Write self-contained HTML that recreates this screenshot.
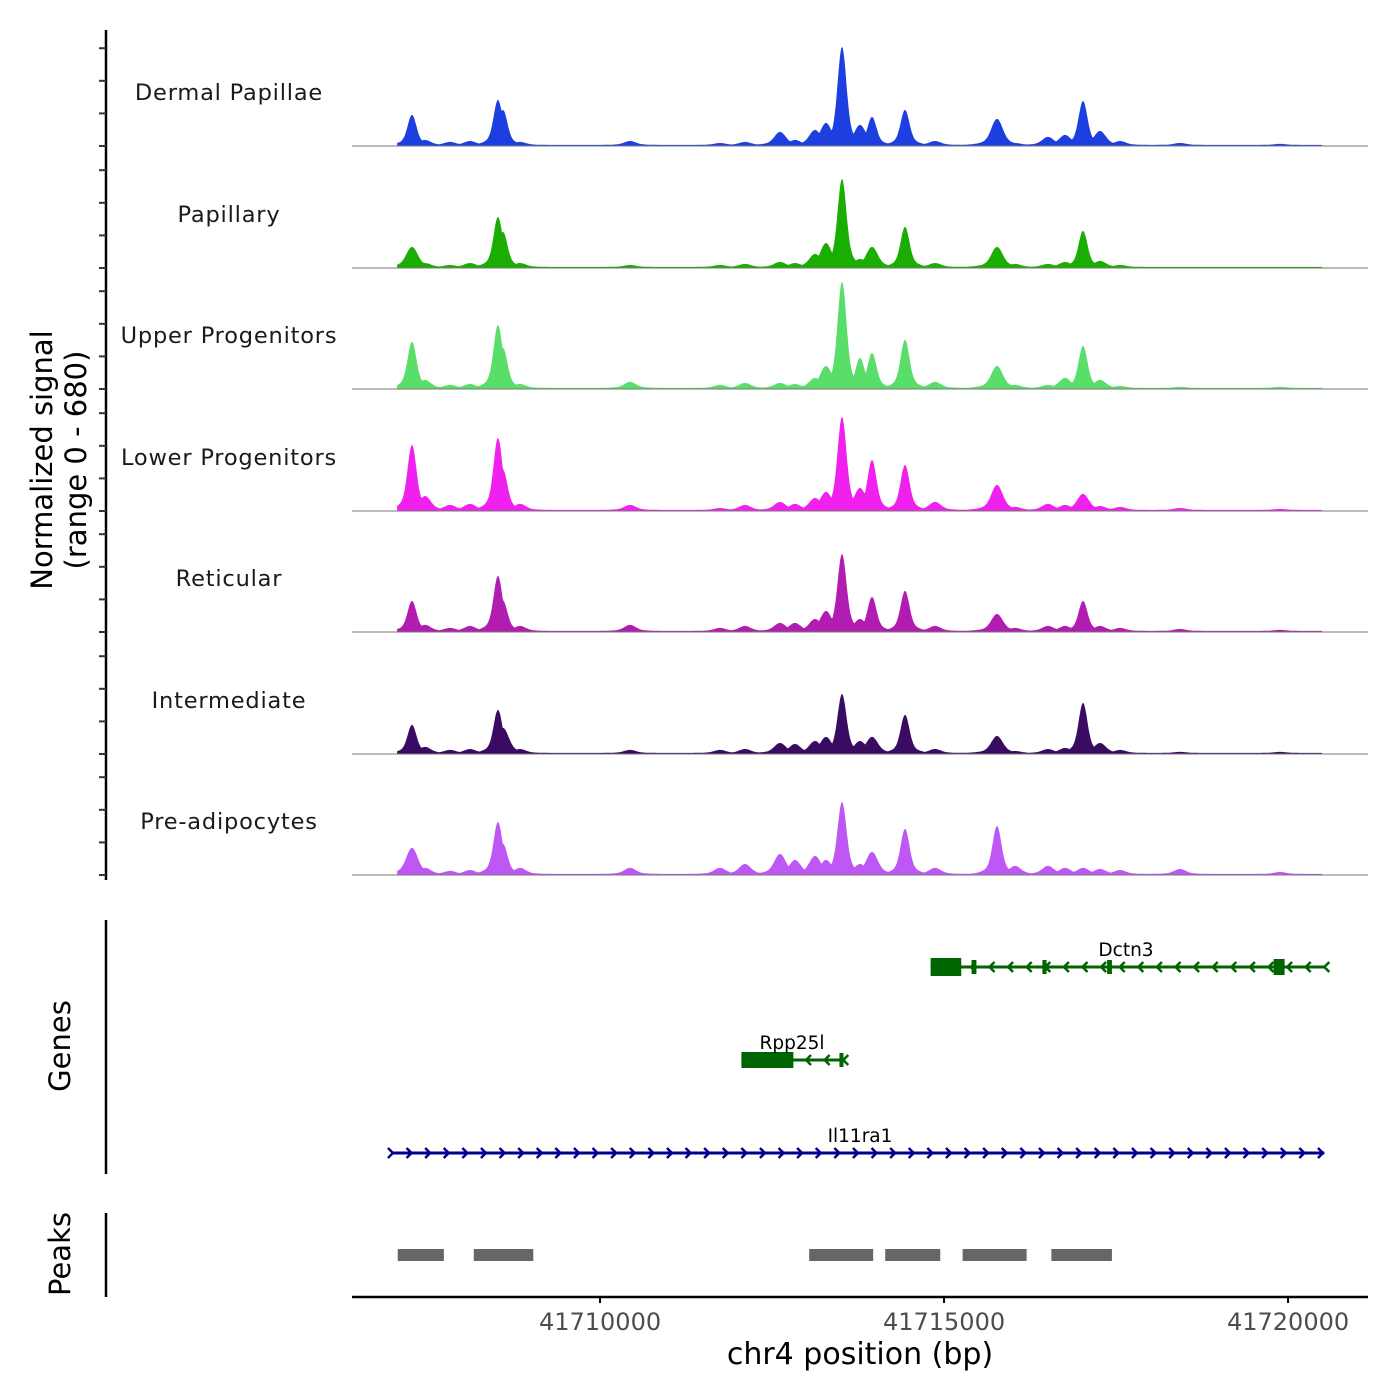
<!DOCTYPE html>
<html><head><meta charset="utf-8"><style>
html,body{margin:0;padding:0;background:#fff;}
svg{display:block;font-family:"DejaVu Sans","Liberation Sans",sans-serif;}
</style></head><body>
<svg id="chart" width="1400" height="1400" viewBox="0 0 1400 1400">
<g id="tracks"></g>
<g id="left"></g>
<text x="52" y="460" font-size="29" text-anchor="middle" transform="rotate(-90 52 460)" fill="#000">Normalized signal</text>
<text x="86" y="460" font-size="29" text-anchor="middle" transform="rotate(-90 86 460)" fill="#000">(range 0 - 680)</text>
<line x1="106" y1="920" x2="106" y2="1174" stroke="#000" stroke-width="2.5"/>
<text x="70" y="1046" font-size="29" text-anchor="middle" transform="rotate(-90 70 1046)">Genes</text>
<g id="genes"></g>
<line x1="106" y1="1213" x2="106" y2="1297" stroke="#000" stroke-width="2.5"/>
<text x="70" y="1254" font-size="29" text-anchor="middle" transform="rotate(-90 70 1254)">Peaks</text>
<g id="peaks"></g>
<g id="xaxis"></g>
<text x="860" y="1364" font-size="30" text-anchor="middle">chr4 position (bp)</text>
</svg>
<script>
// ---- data ----
const trackNames = ["Dermal Papillae","Papillary","Upper Progenitors","Lower Progenitors","Reticular","Intermediate","Pre-adipocytes"];
const trackColors = ["#1d3fe0","#1aae02","#5ade6a","#f020ef","#b21db1","#3a0b62","#bf57f5"];
const peakCenters = [41707267,41707456,41707819,41708110,41708517,41708590,41708837,41710436,41711744,41712107,41712616,41712834,41713125,41713285,41713517,41713779,41713953,41714433,41714869,41715770,41716032,41716511,41716759,41717020,41717267,41717558,41718430,41719884];
const sigDermal =   [168,28,17,22,252,196,17,22,11,17,73,28,84,123,549,112,157,196,22,146,11,45,56,246,78,22,11,6];
const sigPapillary =[112,22,11,22,280,196,22,11,11,17,28,22,73,134,493,45,112,224,22,112,17,17,28,202,34,11,0,0];
const sigUpper =    [258,45,17,22,353,224,22,34,17,28,28,22,56,123,594,168,196,269,34,123,17,17,56,235,45,11,6,6];
const sigLower =    [364,78,28,34,403,224,34,28,11,28,45,34,67,101,521,123,280,252,45,140,17,34,28,90,22,17,11,6];
const sigReticular =[168,34,17,28,308,168,28,34,17,28,45,45,67,112,431,67,190,224,28,95,17,28,28,168,28,17,11,6];
const sigInter =    [157,34,17,22,241,140,22,17,17,22,56,50,67,90,330,67,90,213,22,95,11,22,28,280,56,17,6,6];
const sigPre =      [146,34,17,22,291,168,34,34,34,56,112,78,101,78,403,56,123,252,34,269,45,45,34,34,28,22,28,11];
const trackSignals = [sigDermal,sigPapillary,sigUpper,sigLower,sigReticular,sigInter,sigPre];
const geneNames = ["Dctn3","Rpp25l","Il11ra1"];
const geneStarts = [41714805,41712055,41706990];
const geneEnds = [41720527,41713535,41720527];
const peakStarts = [41707060,41708165,41713040,41714145,41715270,41716560];
const peakEnds = [41707730,41709030,41713970,41714945,41716200,41717440];
const xTicks = [41710000,41715000,41720000];

// ---- scales ----
const NS="http://www.w3.org/2000/svg";
const X0=352,X1=1368,BP0=41706395,BP1=41721162;
const xs=bp=>X0+(bp-BP0)/(BP1-BP0)*(X1-X0);
const YMAX=680, TH=121.5;
const baselines=[146,268,389,511,632,754,875];
function mk(tag,attrs,parent){const e=document.createElementNS(NS,tag);for(const k in attrs)e.setAttribute(k,attrs[k]);parent.appendChild(e);return e;}

const tracks=document.getElementById('tracks');
trackSignals.forEach((sig,t)=>{
  const base=baselines[t];
  const g=mk('g',{},tracks);
  
  
  let d='M'+xs(41707050).toFixed(1)+','+base;
  for(let bp=41707050;bp<=41720500;bp+=12){
    let v=0;
    for(let i=0;i<peakCenters.length;i++){
      const w=sig[i]>150?85:110;const z=(bp-peakCenters[i])/w;
      const val=sig[i]*(0.82*Math.exp(-z*z)+0.18*Math.exp(-z*z/6));
      if(val>v)v=val;}
    v+=6;
    d+=' L'+xs(bp).toFixed(1)+','+(base-v/YMAX*TH).toFixed(1);
  }
  d+=' L'+xs(41720500).toFixed(1)+','+base+' Z';
  const p=mk('path',{d:d,fill:trackColors[t]},g);
  
  
  const l=mk('line',{x1:X0,x2:X1,y1:base,y2:base,stroke:'#777','stroke-width':1},g);
  
  
  const tx=mk('text',{x:229,y:base-46,'font-size':22.5,'text-anchor':'middle',fill:'#1a1a1a','letter-spacing':'0.8'},g);
  tx.textContent=trackNames[t];
  
  
});

// left axis
const left=document.getElementById('left');
mk('line',{x1:106,x2:106,y1:30,y2:880,stroke:'#000','stroke-width':2.5},left);
baselines.forEach(b=>{for(let k=0;k<4;k++){const y=b-k*32.6;mk('line',{x1:99,x2:106,y1:y,y2:y,stroke:'#333','stroke-width':2},left);}});

// genes
const genes=document.getElementById('genes');
const geneY=[967,1060,1153];
const geneCol=["#006400","#006400","#00008b"];
const geneStrand=[-1,-1,1];
const exons=[[[41714805,41715250,18],[41715400,41715470,14],[41716430,41716490,14],[41717370,41717440,14],[41719790,41719950,16]],[[41712055,41712810,16],[41713480,41713535,14]],[]];
geneNames.forEach((n,i)=>{
  const g=mk('g',{},genes);
  
  
  const y=geneY[i],a=xs(geneStarts[i]),b=xs(geneEnds[i]);
  mk('line',{x1:a,x2:b,y1:y,y2:y,stroke:geneCol[i],'stroke-width':3},g);
  const step=18.6;
  const n2=Math.floor((b-a)/step);
  for(let k=0;k<=n2;k++){
    const x=geneStrand[i]<0? b-k*step : a+k*step;
    const s=geneStrand[i]*5;
    mk('polyline',{points:`${x-s},${y-5} ${x},${y} ${x-s},${y+5}`,fill:'none',stroke:geneCol[i],'stroke-width':2.5},g);
  }
  exons[i].forEach(e=>mk('rect',{x:xs(e[0]),y:y-e[2]/2,width:Math.max(4,xs(e[1])-xs(e[0])),height:e[2],fill:geneCol[i]},g));
  const cx=i===0?1126:(i===1?792:860);
  const t=mk('text',{x:cx,y:y-11,'font-size':18.5,'text-anchor':'middle'},g);
  t.textContent=n;
  
  
});

// peaks
const pk=document.getElementById('peaks');
peakStarts.forEach((s,i)=>{
  const r=mk('rect',{x:xs(s),y:1249,width:xs(peakEnds[i])-xs(s),height:12,fill:'#666'},pk);
  
  
});

// x axis
const xa=document.getElementById('xaxis');
mk('line',{x1:X0,x2:X1,y1:1297,y2:1297,stroke:'#000','stroke-width':2.5},xa);
xTicks.forEach(v=>{
  const x=xs(v);
  mk('line',{x1:x,x2:x,y1:1297,y2:1303,stroke:'#000','stroke-width':2},xa);
  const t=mk('text',{x:x,y:1330,'font-size':24,'text-anchor':'middle',fill:'#4d4d4d'},xa);
  t.textContent=v;
  
  
});
</script>
</body></html>
